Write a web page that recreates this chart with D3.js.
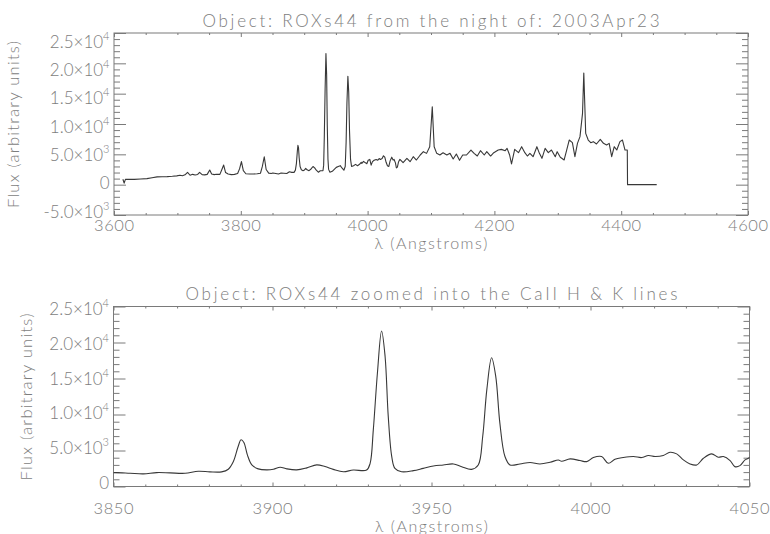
<!DOCTYPE html>
<html>
<head>
<meta charset="utf-8">
<script src="https://cdn.jsdelivr.net/npm/d3@7"></script>
<style>
  body { margin: 0; background: #fff; }
  svg { display: block; }
  text { font-family: "Lato", "Liberation Sans", Arial, sans-serif; font-weight: 300; fill: #7d7d7d; }
</style>
</head>
<body>
<svg id="chart" width="770" height="534"></svg>
<script>
// Spectrum of ROXs44: wavelength (Angstroms) and flux (arbitrary units)
const wavelength = [
  3614, 3616, 3618, 3622, 3632, 3642, 3652, 3660, 3668, 3676, 3684, 3692, 3699, 3704, 3708, 3712,
  3716, 3720, 3724, 3728, 3732, 3735, 3739, 3743, 3747, 3751, 3754, 3758, 3762, 3767, 3770, 3773,
  3776, 3780, 3785, 3790, 3795, 3798, 3801, 3804, 3808, 3814, 3820, 3826, 3831, 3834, 3837, 3840,
  3844, 3848,
  3850.5, 3855.2, 3859.4, 3863.6, 3867.8, 3872.5, 3876.7, 3880.3, 3884.0, 3886.1, 3887.7, 3889.2,
  3890.1, 3891.0, 3892.1, 3893.5, 3895.5, 3898.2, 3900.3, 3902.4, 3904.5, 3907.6, 3910.8, 3913.9,
  3916.5, 3919.1, 3922.3, 3925.4, 3929.6, 3930.7, 3931.7, 3933.0, 3934.3, 3935.4, 3936.4, 3937.5,
  3938.5, 3940.6, 3944.3, 3947.4, 3950.6, 3953.7, 3956.9, 3959.5, 3962.6, 3964.7, 3966.1, 3967.4,
  3968.9, 3970.2, 3971.5, 3973.1, 3974.7, 3977.8, 3981.0, 3984.1, 3987.3, 3989.9, 3990.9, 3993.6,
  3996.7, 3998.8, 4000.9, 4003.5, 4005.6, 4007.7, 4010.3, 4013.5, 4016.1, 4018.2, 4020.3, 4022.9,
  4025.0, 4027.1, 4029.2, 4031.3, 4033.4, 4035.5, 4038.1, 4040.2, 4041.8, 4043.9, 4045.4, 4047.0,
  4048.6, 4049.6,
  4051, 4056, 4062, 4067, 4072, 4077, 4083, 4088, 4093, 4098, 4102, 4105, 4109, 4114, 4119, 4125,
  4130, 4135, 4140, 4145, 4150, 4156, 4163, 4168, 4173, 4178, 4184, 4188, 4194, 4199, 4206, 4211,
  4217, 4220, 4224, 4227, 4232, 4238, 4243, 4248, 4252, 4256, 4261, 4267, 4271, 4275, 4280, 4285,
  4290, 4296, 4299, 4304, 4310, 4314, 4318, 4323, 4327, 4331, 4335, 4339, 4341, 4344, 4348, 4352,
  4356, 4361, 4367, 4372, 4377, 4381, 4385, 4389, 4393, 4398, 4402, 4406, 4409.6, 4410, 4456
];
const flux = [
  900, 250, 880, 900, 880, 930, 1000, 1150, 1280, 1310, 1330, 1380, 1450, 1560, 1480, 1620,
  2030, 1550, 1700, 1600, 1680, 2030, 1650, 1620, 1700, 2420, 1750, 1650, 1720, 1700, 2450, 3240,
  2000, 1750, 1650, 1700, 1850, 2600, 3800, 2300, 1800, 1750, 1760, 1800, 1880, 3000, 4600, 2500,
  1900, 1850,
  1930, 1840, 1750, 1930, 1890, 1840, 2120, 2030, 2030, 2400, 3470, 5560,
  6490, 6120, 4400, 3000, 2450, 2310, 2400, 2680, 2450, 2310, 2590, 3000,
  2770, 2380, 2050, 2290, 2290, 3220, 7870, 15800, 21600, 18100, 9740, 4160,
  2520, 2050, 2200, 2520, 2850, 2990, 3130, 2750, 2380, 2990, 6940, 13460,
  17880, 15300, 8800, 4160, 2990, 3130, 3340, 3130, 3360, 3690, 3500, 3830,
  3600, 3460, 4020, 4160, 3220, 3790, 4020, 4160, 4020, 4300, 4160, 4300,
  4760, 4530, 3690, 3130, 2990, 3920, 4530, 4060, 4160, 3600, 2760, 2900,
  3690, 3920,
  4170, 3620, 4340, 3790, 4610, 4060, 4890, 5440, 5160, 6260, 12850, 6260, 5160, 4890, 5270, 4890,
  5160, 4230, 5050, 4010, 4890, 4890, 5710, 5160, 4720, 5600, 4890, 5440, 4720, 5270, 5710, 5820,
  5600, 5990, 4890, 3410, 5820, 5270, 6260, 5270, 4720, 5160, 4610, 6260, 5160, 4340, 5990, 5270,
  5710, 4610, 5440, 4510, 4070, 5710, 7360, 6920, 4610, 6810, 7910, 11760, 18400, 8460, 7360, 6920,
  7090, 6700, 7470, 6810, 6540, 6810, 4610, 6260, 5710, 7090, 7360, 5710, 5710, 0, 0
];

// Axis ticks and their labels
const fullXTicks = [3600, 3800, 4000, 4200, 4400, 4600];
const fullYTicks = [-5000, 0, 5000, 10000, 15000, 20000, 25000];
const fullYLabels = ["-5.0×10^3", "0", "5.0×10^3", "1.0×10^4", "1.5×10^4", "2.0×10^4", "2.5×10^4"];
const zoomXTicks = [3850, 3900, 3950, 4000, 4050];
const zoomYTicks = [0, 5000, 10000, 15000, 20000, 25000];
const zoomYLabels = ["0", "5.0×10^3", "1.0×10^4", "1.5×10^4", "2.0×10^4", "2.5×10^4"];

const titles = [
  "Object: ROXs44 from the night of: 2003Apr23",
  "Object: ROXs44 zoomed into the CaII H & K lines"
];
const xTitle = "λ (Angstroms)";
const yTitle = "Flux (arbitrary units)";

const spectrum = wavelength.map((w, i) => [w, flux[i]]);

const svg = d3.select("#chart");
const axisColor = "#7a7a7a";
const lineColor = "#383838";

const panels = [
  {
    id: "full", title: titles[0],
    x: d3.scaleLinear([3600, 4600], [114, 748]),
    y: d3.scaleLinear([-5000, 25000], [215, 33]),
    yLabelRange: [211.5, 41.5], curve: d3.curveLinear,
    xTicks: fullXTicks, xMinor: 50, yTicks: fullYTicks, yLabels: fullYLabels, yMinor: 1000,
    titleY: 27, titleW: 457, xLabelY: 231, xTitleY: 249, yTitleX: 19
  },
  {
    id: "zoom", title: titles[1],
    x: d3.scaleLinear([3850, 4050], [113.5, 749.5]),
    y: d3.scaleLinear([0, 25000], [486.5, 306.5]),
    yLabelRange: [483, 309], curve: d3.curveCatmullRom.alpha(0.5),
    xTicks: zoomXTicks, xMinor: 10, yTicks: zoomYTicks, yLabels: zoomYLabels, yMinor: 1000,
    titleY: 300, titleW: 492, xLabelY: 513.5, xTitleY: 532, yTitleX: 32
  }
];

const defs = svg.append("defs");

panels.forEach(p => {
  const [x0, x1] = p.x.range();
  const [y1, y0] = p.y.range();
  const g = svg.append("g");
  const xd = p.x.domain(), yd = p.y.domain();
  const xMinorVals = d3.range(xd[0], xd[1] + p.xMinor / 2, p.xMinor).filter(v => !p.xTicks.includes(v));
  const yMinorVals = d3.range(yd[0], yd[1] + p.yMinor / 2, p.yMinor).filter(v => !p.yTicks.includes(v));
  const xLen = 4, yLen = 12;
  const yLabelPos = d3.scaleLinear(yd, p.yLabelRange);

  // Frame
  g.append("rect")
    .attr("x", x0).attr("y", y0).attr("width", x1 - x0).attr("height", y1 - y0)
    .attr("fill", "none").attr("stroke", axisColor).attr("stroke-width", 1);

  const tickGroup = (axis, tx, ty) => g.append("g")
    .attr("transform", `translate(${tx},${ty})`)
    .attr("color", axisColor)
    .call(axis)
    .call(s => s.select(".domain").remove())
    .call(s => s.selectAll("text").remove());

  // Inward ticks on all four sides, minor ticks half as long
  [[p.xTicks, xLen], [xMinorVals, xLen / 2]].forEach(([vals, len]) => {
    tickGroup(d3.axisBottom(p.x).tickValues(vals).tickSize(-len), 0, y1);
    tickGroup(d3.axisTop(p.x).tickValues(vals).tickSize(-len), 0, y0);
  });
  [[p.yTicks, yLen], [yMinorVals, yLen / 2]].forEach(([vals, len]) => {
    tickGroup(d3.axisLeft(p.y).tickValues(vals).tickSize(-len), x0, 0);
    tickGroup(d3.axisRight(p.y).tickValues(vals).tickSize(-len), x1, 0);
  });

  // X tick labels
  g.selectAll(".xl").data(p.xTicks).join("text")
    .attr("x", d => p.x(d)).attr("y", p.xLabelY)
    .attr("text-anchor", "middle").attr("font-size", 16.5)
    .attr("textLength", 40).attr("lengthAdjust", "spacing")
    .text(d => d);

  // Y tick labels with superscript exponents
  g.selectAll(".yl").data(p.yTicks).join("text")
    .attr("x", x0 - 4.5).attr("y", d => yLabelPos(d) + 6)
    .attr("text-anchor", "end").attr("font-size", 17)
    .each(function (d, i) {
      const [mant, exp] = p.yLabels[i].split("^");
      const t = d3.select(this);
      t.append("tspan").text(mant);
      if (exp) t.append("tspan").attr("dy", -8).attr("font-size", 11).text(exp);
    });

  // Titles
  g.append("text")
    .attr("x", (x0 + x1) / 2).attr("y", p.titleY)
    .attr("text-anchor", "middle").attr("font-size", 17)
    .attr("textLength", p.titleW).attr("lengthAdjust", "spacing")
    .text(p.title);
  g.append("text")
    .attr("x", (x0 + x1) / 2).attr("y", p.xTitleY)
    .attr("text-anchor", "middle").attr("font-size", 16)
    .attr("textLength", 113).attr("lengthAdjust", "spacing")
    .text(xTitle);
  g.append("text")
    .attr("transform", `translate(${p.yTitleX},${(y0 + y1) / 2 + 0.5}) rotate(-90)`)
    .attr("text-anchor", "middle").attr("font-size", 16.5)
    .attr("textLength", 167).attr("lengthAdjust", "spacing")
    .text(yTitle);

  // Spectrum
  defs.append("clipPath").attr("id", "clip-" + p.id)
    .append("rect").attr("x", x0).attr("y", y0).attr("width", x1 - x0).attr("height", y1 - y0);
  g.append("path")
    .datum(spectrum)
    .attr("clip-path", `url(#clip-${p.id})`)
    .attr("fill", "none").attr("stroke", lineColor).attr("stroke-width", 1.1)
    .attr("stroke-linejoin", "round")
    .attr("d", d3.line().curve(p.curve).x(d => p.x(d[0])).y(d => p.y(d[1])));
});
</script>
</body>
</html>
